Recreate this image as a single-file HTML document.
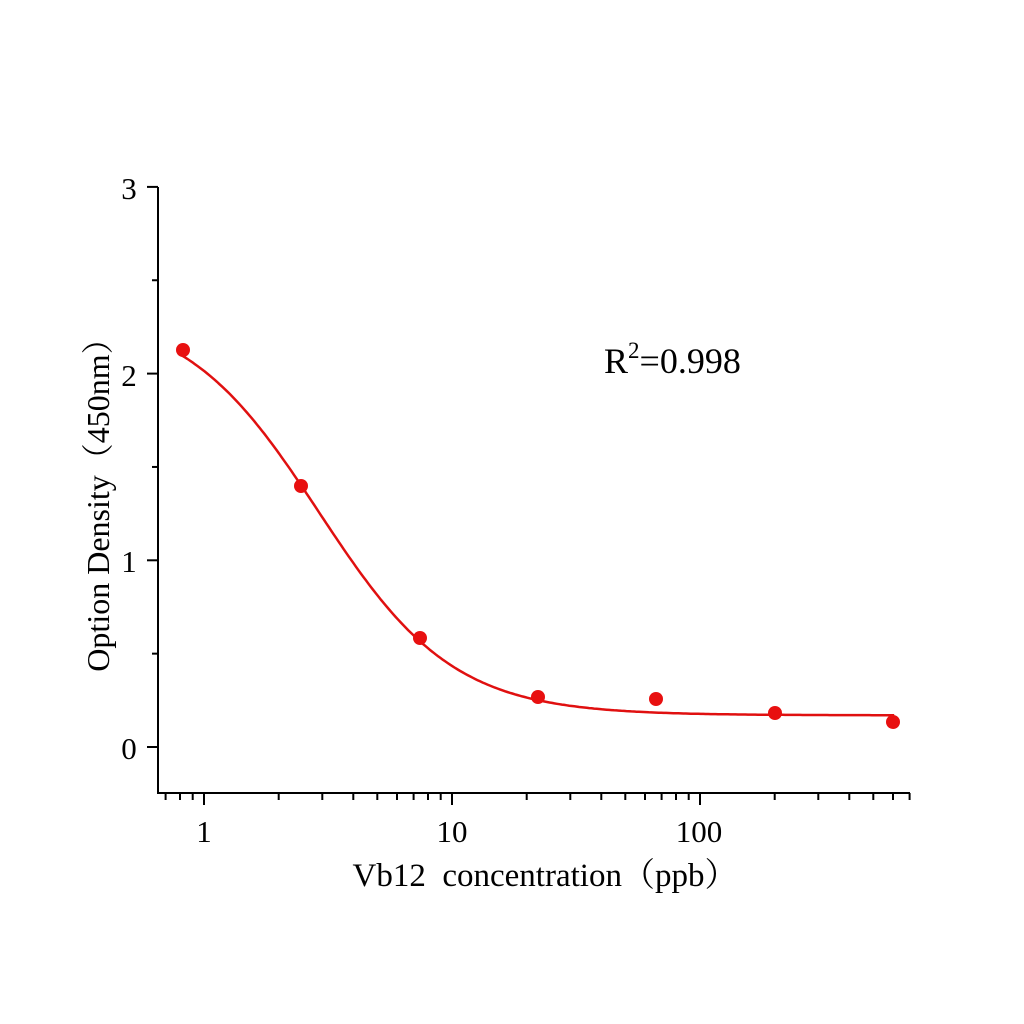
<!DOCTYPE html><html><head><meta charset="utf-8"><style>body{margin:0;background:#fff}svg{display:block}text{font-family:"Liberation Serif","Noto Serif CJK SC",serif;fill:#000}</style></head><body>
<svg id="s" width="1024" height="1024" xmlns="http://www.w3.org/2000/svg">
<rect width="1024" height="1024" fill="#fff"/>
<g id="g" stroke="#000" stroke-width="2" fill="none"></g>
<text x="129" y="199" font-size="31" text-anchor="middle">3</text>
<text x="129" y="386" font-size="31" text-anchor="middle">2</text>
<text x="129" y="572" font-size="31" text-anchor="middle">1</text>
<text x="129" y="759" font-size="31" text-anchor="middle">0</text>
<text x="204" y="842" font-size="31" text-anchor="middle">1</text>
<text x="452" y="842" font-size="31" text-anchor="middle">10</text>
<text x="699" y="842" font-size="31" text-anchor="middle">100</text>
<text x="545" y="886" font-size="33" text-anchor="middle" style="white-space:pre">Vb12  concentration（ppb）</text>
<text transform="translate(109,497) rotate(-90)" font-size="32" text-anchor="middle">Option Density（450nm）</text>
<text x="604" y="373" font-size="36">R<tspan dy="-15" font-size="23">2</tspan><tspan dy="15">=0.998</tspan></text>
<path id="c" fill="none" stroke="#e01010" stroke-width="2.5"/>
<g id="p" fill="#e81010"></g>
</svg>
<script>
var X=function(v){return 204+248*Math.log10(v)},Y=function(v){return 747-186.7*v};
var g=document.getElementById('g'),h='';
h+='<path d="M158 187V793H910"/>';
for(var i=0;i<=6;i++){var y=747-93.35*i;h+='<path d="M158 '+y+'h'+(i%2?-6:-11)+'"/>';}
var d=[0.1,1,10,100];
for(var k=0;k<4;k++)for(var m=1;m<10;m++){var v=d[k]*m,x=X(v);if(x<160||x>910)continue;h+='<path d="M'+x.toFixed(1)+' 793v'+(m==1?12:7)+'"/>';}
g.innerHTML=h;
var A=2.35,D=0.17,C=2.9,B=1.6,s='';
for(var t=Math.log10(0.8);t<=Math.log10(620);t+=0.01){var v=Math.pow(10,t),o=D+(A-D)/(1+Math.pow(v/C,B));s+=(s?'L':'M')+X(v).toFixed(1)+' '+Y(o).toFixed(1);}
document.getElementById('c').setAttribute('d',s);
var pts=[[183,350],[301,486],[420,638],[538,697],[656,699],[775,713],[893,722]],q='';
pts.forEach(function(p){q+='<circle cx="'+p[0]+'" cy="'+p[1]+'" r="7"/>';});
document.getElementById('p').innerHTML=q;
</script></body></html>
